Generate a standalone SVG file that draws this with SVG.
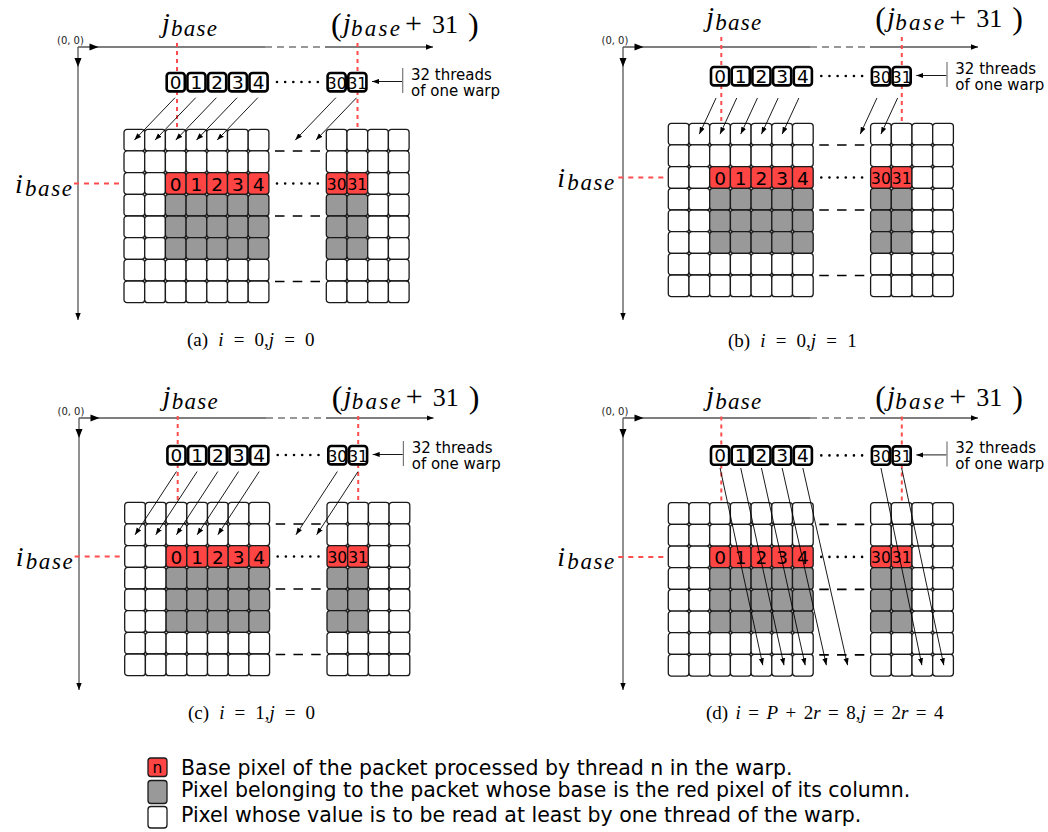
<svg xmlns="http://www.w3.org/2000/svg" width="1048" height="832" viewBox="0 0 1048 832">
<style>
.cw{fill:#fff;stroke:#1a1a1a;stroke-width:1.3}
.cr{fill:#ff4444;stroke:#1a1a1a;stroke-width:1.3}
.cg{fill:#999;stroke:#1a1a1a;stroke-width:1.3}
.tb{fill:#fff;stroke:#000;stroke-width:2.6}
.ax{stroke:#555;stroke-width:1.3;fill:none}
.axd{stroke:#777;stroke-width:1.3;stroke-dasharray:7 5;fill:none}
.ah{fill:#000}
.rv{stroke:#ff4d4d;stroke-width:2;stroke-dasharray:4 4}
.rh{stroke:#ff4d4d;stroke-width:2;stroke-dasharray:5 5}
.dsh{stroke:#000;stroke-width:1.6;stroke-dasharray:9.5 8.25}
.dot{stroke:#000;stroke-width:2.6;stroke-linecap:round;stroke-dasharray:0 8.16}
.ar{stroke:#000;stroke-width:0.9;fill:none;marker-end:url(#ah)}
.br{stroke:#777;stroke-width:1.2}
.mi{font-family:"Liberation Serif",serif;font-style:italic;fill:#000}
.mr{font-family:"Liberation Serif",serif;fill:#000}
.n{font-family:"DejaVu Sans",sans-serif;font-size:18.5px;text-anchor:middle;fill:#000}
.n2{font-family:"DejaVu Sans",sans-serif;font-size:15.5px;text-anchor:middle;fill:#000}
.lb{font-family:"DejaVu Sans",sans-serif;font-size:15px;fill:#000}
.o{font-family:"DejaVu Sans",sans-serif;font-size:10px;fill:#222}
.cap{font-family:"Liberation Serif",serif;font-size:19px;fill:#000}
.lg{font-family:"DejaVu Sans",sans-serif;font-size:20.5px;fill:#000}
</style>
<defs>
<marker id="ah" markerWidth="8" markerHeight="6" refX="7" refY="3" orient="auto" markerUnits="userSpaceOnUse"><path d="M0,0.4 L7,3 L0,5.6 z" fill="#000"/></marker>
<marker id="am" markerWidth="8" markerHeight="6" refX="7" refY="3" orient="auto" markerUnits="userSpaceOnUse"><path d="M0,0.3 L7,3 L0,5.7 z" fill="#000"/></marker>
<g id="rW7"><rect class="cw" x="0" width="20.7" height="21.67" rx="3"/><rect class="cw" x="20.7" width="20.7" height="21.67" rx="3"/><rect class="cw" x="41.4" width="20.7" height="21.67" rx="3"/><rect class="cw" x="62.1" width="20.7" height="21.67" rx="3"/><rect class="cw" x="82.8" width="20.7" height="21.67" rx="3"/><rect class="cw" x="103.5" width="20.7" height="21.67" rx="3"/><rect class="cw" x="124.2" width="20.7" height="21.67" rx="3"/></g>
<g id="rR7"><rect class="cw" x="0" width="20.7" height="21.67" rx="3"/><rect class="cw" x="20.7" width="20.7" height="21.67" rx="3"/><rect class="cr" x="41.4" width="20.7" height="21.67" rx="3"/><rect class="cr" x="62.1" width="20.7" height="21.67" rx="3"/><rect class="cr" x="82.8" width="20.7" height="21.67" rx="3"/><rect class="cr" x="103.5" width="20.7" height="21.67" rx="3"/><rect class="cr" x="124.2" width="20.7" height="21.67" rx="3"/></g>
<g id="rG7"><rect class="cw" x="0" width="20.7" height="21.67" rx="3"/><rect class="cw" x="20.7" width="20.7" height="21.67" rx="3"/><rect class="cg" x="41.4" width="20.7" height="21.67" rx="3"/><rect class="cg" x="62.1" width="20.7" height="21.67" rx="3"/><rect class="cg" x="82.8" width="20.7" height="21.67" rx="3"/><rect class="cg" x="103.5" width="20.7" height="21.67" rx="3"/><rect class="cg" x="124.2" width="20.7" height="21.67" rx="3"/></g>
<g id="rW4"><rect class="cw" x="0" width="20.7" height="21.67" rx="3"/><rect class="cw" x="20.7" width="20.7" height="21.67" rx="3"/><rect class="cw" x="41.4" width="20.7" height="21.67" rx="3"/><rect class="cw" x="62.1" width="20.7" height="21.67" rx="3"/></g>
<g id="rR4"><rect class="cr" x="0" width="20.7" height="21.67" rx="3"/><rect class="cr" x="20.7" width="20.7" height="21.67" rx="3"/><rect class="cw" x="41.4" width="20.7" height="21.67" rx="3"/><rect class="cw" x="62.1" width="20.7" height="21.67" rx="3"/></g>
<g id="rG4"><rect class="cg" x="0" width="20.7" height="21.67" rx="3"/><rect class="cg" x="20.7" width="20.7" height="21.67" rx="3"/><rect class="cw" x="41.4" width="20.7" height="21.67" rx="3"/><rect class="cw" x="62.1" width="20.7" height="21.67" rx="3"/></g>
<g id="gL"><use href="#rW7" y="0"/><use href="#rW7" y="21.67"/><use href="#rR7" y="43.34"/><use href="#rG7" y="65.01"/><use href="#rG7" y="86.68"/><use href="#rG7" y="108.35"/><use href="#rW7" y="130.02"/><use href="#rW7" y="151.69"/></g>
<g id="gR"><use href="#rW4" y="0"/><use href="#rW4" y="21.67"/><use href="#rR4" y="43.34"/><use href="#rG4" y="65.01"/><use href="#rG4" y="86.68"/><use href="#rG4" y="108.35"/><use href="#rW4" y="130.02"/><use href="#rW4" y="151.69"/></g>
<g id="boxes">
<rect class="tb" x="166.7" y="73" width="18.1" height="18.4" rx="3"/><rect class="tb" x="187.4" y="73" width="18.1" height="18.4" rx="3"/><rect class="tb" x="208.1" y="73" width="18.1" height="18.4" rx="3"/><rect class="tb" x="228.8" y="73" width="18.1" height="18.4" rx="3"/><rect class="tb" x="249.5" y="73" width="18.1" height="18.4" rx="3"/>
<rect class="tb" x="327.6" y="73" width="18.1" height="18.4" rx="3"/><rect class="tb" x="348.3" y="73" width="18.1" height="18.4" rx="3"/>
</g>
<g id="deco">
<line class="rv" x1="177" y1="43" x2="177" y2="128"/>
<line class="rv" x1="357.5" y1="43" x2="357.5" y2="128"/>
<line class="rh" x1="74" y1="183.5" x2="123" y2="183.5"/>
<use href="#gL" x="124" y="129.3"/>
<use href="#gR" x="326.3" y="129.3"/>
<line class="dsh" x1="275" y1="151" x2="320" y2="151"/>
<line class="dsh" x1="275" y1="216" x2="320" y2="216"/>
<line class="dsh" x1="275" y1="281.5" x2="320" y2="281.5"/>
<line class="dot" x1="277" y1="183.5" x2="318" y2="183.5"/>
<line class="dot" x1="277" y1="82" x2="318" y2="82"/>
<use href="#boxes"/>
<line class="br" x1="402.7" y1="68" x2="402.7" y2="93"/>
<line class="ar" x1="402" y1="81.5" x2="372" y2="81.5"/>
</g>
</defs>

<!-- Panel (a) -->
<g id="panel-a">
<g id="axes-a">
<line class="ax" x1="78" y1="47" x2="265" y2="47"/>
<line class="axd" x1="265" y1="47" x2="325" y2="47"/>
<line class="ax" x1="325" y1="47" x2="433" y2="47" marker-end="url(#am)"/>
<polygon class="ah" points="89.5,43.5 98.5,47 89.5,50.5"/>
<line class="ax" x1="78" y1="47" x2="78" y2="320" marker-end="url(#am)"/>
<polygon class="ah" points="74.5,58 78,67 81.5,58"/>
<text class="o" x="57" y="43.5">(0, 0)</text>
</g>
<g id="content-a" transform="translate(0,0)">
<use href="#deco"/>
<text class="mi" x="162" y="32" font-size="28">j</text><text class="mi" x="171" y="36" font-size="23" textLength="46" lengthAdjust="spacing">base</text>
<text class="mr" x="331" y="35" font-size="32">(</text><text class="mi" x="343" y="32" font-size="28">j</text><text class="mi" x="351" y="36" font-size="23" textLength="49" lengthAdjust="spacing">base</text><text class="mr" x="405" y="33" font-size="30">+</text><text class="mr" x="432" y="33" font-size="26">31</text><text class="mr" x="468" y="35" font-size="32">)</text>
<text class="mi" x="15" y="192.5" font-size="28">i</text><text class="mi" x="25" y="196" font-size="23" textLength="47" lengthAdjust="spacing">base</text>
<text class="n" x="175.75" y="190.5">0</text><text class="n" x="196.45" y="190.5">1</text><text class="n" x="217.15" y="190.5">2</text><text class="n" x="237.85" y="190.5">3</text><text class="n" x="258.55" y="190.5">4</text><text class="n2" x="336.65" y="190">30</text><text class="n2" x="357.35" y="190">31</text>
<text class="n" x="175.75" y="89">0</text><text class="n" x="196.45" y="89">1</text><text class="n" x="217.15" y="89">2</text><text class="n" x="237.85" y="89">3</text><text class="n" x="258.55" y="89">4</text><text class="n2" x="336.65" y="88.5">30</text><text class="n2" x="357.35" y="88.5">31</text>
<text class="lb" x="411" y="79.5">32 threads</text><text class="lb" x="411" y="95.5">of one warp</text>
<g id="conn-a">
<line class="ar" x1="175" y1="97.7" x2="134.35" y2="140.1"/><line class="ar" x1="195.7" y1="97.7" x2="155.05" y2="140.1"/><line class="ar" x1="216.4" y1="97.7" x2="175.75" y2="140.1"/><line class="ar" x1="237.1" y1="97.7" x2="196.45" y2="140.1"/><line class="ar" x1="257.8" y1="97.7" x2="217.15" y2="140.1"/><line class="ar" x1="335.9" y1="97.7" x2="295.25" y2="140.1"/><line class="ar" x1="356.6" y1="97.7" x2="315.95" y2="140.1"/>
</g>
</g>
<text class="cap" x="187" y="346" word-spacing="5.4">(a) <tspan font-style="italic">i</tspan> = 0,<tspan font-style="italic">j</tspan> = 0</text>
</g>

<!-- Panel (b) -->
<g id="panel-b">
<g id="axes-b">
<line class="ax" x1="623" y1="47" x2="810" y2="47"/>
<line class="axd" x1="810" y1="47" x2="870" y2="47"/>
<line class="ax" x1="870" y1="47" x2="978" y2="47" marker-end="url(#am)"/>
<polygon class="ah" points="634.5,43.5 643.5,47 634.5,50.5"/>
<line class="ax" x1="623" y1="47" x2="623" y2="320" marker-end="url(#am)"/>
<polygon class="ah" points="619.5,58 623,67 626.5,58"/>
<text class="o" x="601.5" y="43.5">(0, 0)</text>
</g>
<g id="content-b" transform="translate(544.3,-6)">
<use href="#deco"/>
<text class="mi" x="162" y="32" font-size="28">j</text><text class="mi" x="171" y="36" font-size="23" textLength="46" lengthAdjust="spacing">base</text>
<text class="mr" x="331" y="35" font-size="32">(</text><text class="mi" x="343" y="32" font-size="28">j</text><text class="mi" x="351" y="36" font-size="23" textLength="49" lengthAdjust="spacing">base</text><text class="mr" x="405" y="33" font-size="30">+</text><text class="mr" x="432" y="33" font-size="26">31</text><text class="mr" x="468" y="35" font-size="32">)</text>
<text class="mi" x="13" y="192.5" font-size="28">i</text><text class="mi" x="23" y="196" font-size="23" textLength="47" lengthAdjust="spacing">base</text>
<text class="n" x="175.75" y="190.5">0</text><text class="n" x="196.45" y="190.5">1</text><text class="n" x="217.15" y="190.5">2</text><text class="n" x="237.85" y="190.5">3</text><text class="n" x="258.55" y="190.5">4</text><text class="n2" x="336.65" y="190">30</text><text class="n2" x="357.35" y="190">31</text>
<text class="n" x="175.75" y="89">0</text><text class="n" x="196.45" y="89">1</text><text class="n" x="217.15" y="89">2</text><text class="n" x="237.85" y="89">3</text><text class="n" x="258.55" y="89">4</text><text class="n2" x="336.65" y="88.5">30</text><text class="n2" x="357.35" y="88.5">31</text>
<text class="lb" x="411" y="79.5">32 threads</text><text class="lb" x="411" y="95.5">of one warp</text>
<g id="conn-b">
<line class="ar" x1="171.75" y1="104" x2="155.05" y2="140.1"/><line class="ar" x1="192.45" y1="104" x2="175.75" y2="140.1"/><line class="ar" x1="213.15" y1="104" x2="196.45" y2="140.1"/><line class="ar" x1="233.85" y1="104" x2="217.15" y2="140.1"/><line class="ar" x1="254.55" y1="104" x2="237.85" y2="140.1"/><line class="ar" x1="332.65" y1="104" x2="315.95" y2="140.1"/><line class="ar" x1="353.35" y1="104" x2="336.65" y2="140.1"/>
</g>
</g>
<text class="cap" x="728" y="346.5" word-spacing="5.4">(b) <tspan font-style="italic">i</tspan> = 0,<tspan font-style="italic">j</tspan> = 1</text>
</g>

<!-- Panel (c) -->
<g id="panel-c">
<g id="axes-c">
<line class="ax" x1="79" y1="418" x2="266" y2="418"/>
<line class="axd" x1="266" y1="418" x2="326" y2="418"/>
<line class="ax" x1="326" y1="418" x2="433.5" y2="418" marker-end="url(#am)"/>
<polygon class="ah" points="90.5,414.5 99.5,418 90.5,421.5"/>
<line class="ax" x1="79" y1="418" x2="79" y2="690" marker-end="url(#am)"/>
<polygon class="ah" points="75.5,429 79,438 82.5,429"/>
<text class="o" x="57.5" y="414.5">(0, 0)</text>
</g>
<g id="content-c" transform="translate(0.7,373)">
<use href="#deco"/>
<text class="mi" x="162" y="32" font-size="28">j</text><text class="mi" x="171" y="36" font-size="23" textLength="46" lengthAdjust="spacing">base</text>
<text class="mr" x="331" y="35" font-size="32">(</text><text class="mi" x="343" y="32" font-size="28">j</text><text class="mi" x="351" y="36" font-size="23" textLength="49" lengthAdjust="spacing">base</text><text class="mr" x="405" y="33" font-size="30">+</text><text class="mr" x="432" y="33" font-size="26">31</text><text class="mr" x="468" y="35" font-size="32">)</text>
<text class="mi" x="15" y="192.5" font-size="28">i</text><text class="mi" x="25" y="196" font-size="23" textLength="47" lengthAdjust="spacing">base</text>
<text class="n" x="175.75" y="190.5">0</text><text class="n" x="196.45" y="190.5">1</text><text class="n" x="217.15" y="190.5">2</text><text class="n" x="237.85" y="190.5">3</text><text class="n" x="258.55" y="190.5">4</text><text class="n2" x="336.65" y="190">30</text><text class="n2" x="357.35" y="190">31</text>
<text class="n" x="175.75" y="89">0</text><text class="n" x="196.45" y="89">1</text><text class="n" x="217.15" y="89">2</text><text class="n" x="237.85" y="89">3</text><text class="n" x="258.55" y="89">4</text><text class="n2" x="336.65" y="88.5">30</text><text class="n2" x="357.35" y="88.5">31</text>
<text class="lb" x="411" y="79.5">32 threads</text><text class="lb" x="411" y="95.5">of one warp</text>
<g id="conn-c">
<line class="ar" x1="175.75" y1="98.5" x2="134.35" y2="161.8"/><line class="ar" x1="196.45" y1="98.5" x2="155.05" y2="161.8"/><line class="ar" x1="217.15" y1="98.5" x2="175.75" y2="161.8"/><line class="ar" x1="237.85" y1="98.5" x2="196.45" y2="161.8"/><line class="ar" x1="258.55" y1="98.5" x2="217.15" y2="161.8"/><line class="ar" x1="336.65" y1="98.5" x2="295.25" y2="161.8"/><line class="ar" x1="357.35" y1="98.5" x2="315.95" y2="161.8"/>
</g>
</g>
<text class="cap" x="188" y="719" word-spacing="5.3">(c) <tspan font-style="italic">i</tspan> = 1,<tspan font-style="italic">j</tspan> = 0</text>
</g>

<!-- Panel (d) -->
<g id="panel-d">
<g id="axes-d">
<line class="ax" x1="623" y1="418" x2="810" y2="418"/>
<line class="axd" x1="810" y1="418" x2="870" y2="418"/>
<line class="ax" x1="870" y1="418" x2="978" y2="418" marker-end="url(#am)"/>
<polygon class="ah" points="634.5,414.5 643.5,418 634.5,421.5"/>
<line class="ax" x1="623" y1="418" x2="623" y2="690" marker-end="url(#am)"/>
<polygon class="ah" points="619.5,429 623,438 626.5,429"/>
<text class="o" x="601.5" y="414.5">(0, 0)</text>
</g>
<g id="content-d" transform="translate(544.3,373.4)">
<use href="#deco"/>
<text class="mi" x="162" y="32" font-size="28">j</text><text class="mi" x="171" y="36" font-size="23" textLength="46" lengthAdjust="spacing">base</text>
<text class="mr" x="331" y="35" font-size="32">(</text><text class="mi" x="343" y="32" font-size="28">j</text><text class="mi" x="351" y="36" font-size="23" textLength="49" lengthAdjust="spacing">base</text><text class="mr" x="405" y="33" font-size="30">+</text><text class="mr" x="432" y="33" font-size="26">31</text><text class="mr" x="468" y="35" font-size="32">)</text>
<text class="mi" x="13" y="192.5" font-size="28">i</text><text class="mi" x="23" y="196" font-size="23" textLength="47" lengthAdjust="spacing">base</text>
<text class="n" x="175.75" y="190.5">0</text><text class="n" x="196.45" y="190.5">1</text><text class="n" x="217.15" y="190.5">2</text><text class="n" x="237.85" y="190.5">3</text><text class="n" x="258.55" y="190.5">4</text><text class="n2" x="336.65" y="190">30</text><text class="n2" x="357.35" y="190">31</text>
<text class="n" x="175.75" y="89">0</text><text class="n" x="196.45" y="89">1</text><text class="n" x="217.15" y="89">2</text><text class="n" x="237.85" y="89">3</text><text class="n" x="258.55" y="89">4</text><text class="n2" x="336.65" y="88.5">30</text><text class="n2" x="357.35" y="88.5">31</text>
<text class="lb" x="411" y="79.5">32 threads</text><text class="lb" x="411" y="95.5">of one warp</text>
<g id="conn-d">
<line class="ar" x1="175.75" y1="94.6" x2="218.5" y2="291.8"/><line class="ar" x1="196.45" y1="94.6" x2="239.7" y2="291.8"/><line class="ar" x1="217.15" y1="94.6" x2="260.9" y2="291.8"/><line class="ar" x1="237.85" y1="94.6" x2="282.1" y2="291.8"/><line class="ar" x1="258.55" y1="94.6" x2="303.3" y2="291.8"/><line class="ar" x1="336.65" y1="94.6" x2="377.6" y2="291.8"/><line class="ar" x1="357.35" y1="94.6" x2="399.5" y2="291.8"/>
</g>
</g>
<text class="cap" x="706" y="719" word-spacing="2.7">(d) <tspan font-style="italic">i</tspan> = <tspan font-style="italic">P</tspan> + 2<tspan font-style="italic">r</tspan> = 8,<tspan font-style="italic">j</tspan> = 2<tspan font-style="italic">r</tspan> = 4</text>
</g>

<!-- Legend -->
<g id="legend">
<rect class="cr" x="148" y="758" width="19" height="18.5" rx="3"/>
<text class="n2" x="157.5" y="773" font-size="17">n</text>
<rect class="cg" x="148" y="780.5" width="19" height="23" rx="3"/>
<rect class="cw" x="148" y="806.5" width="19" height="21.5" rx="3"/>
<text class="lg" x="181" y="775">Base pixel of the packet processed by thread n in the warp.</text>
<text class="lg" x="181" y="797">Pixel belonging to the packet whose base is the red pixel of its column.</text>
<text class="lg" x="181" y="822">Pixel whose value is to be read at least by one thread of the warp.</text>
</g>
</svg>
